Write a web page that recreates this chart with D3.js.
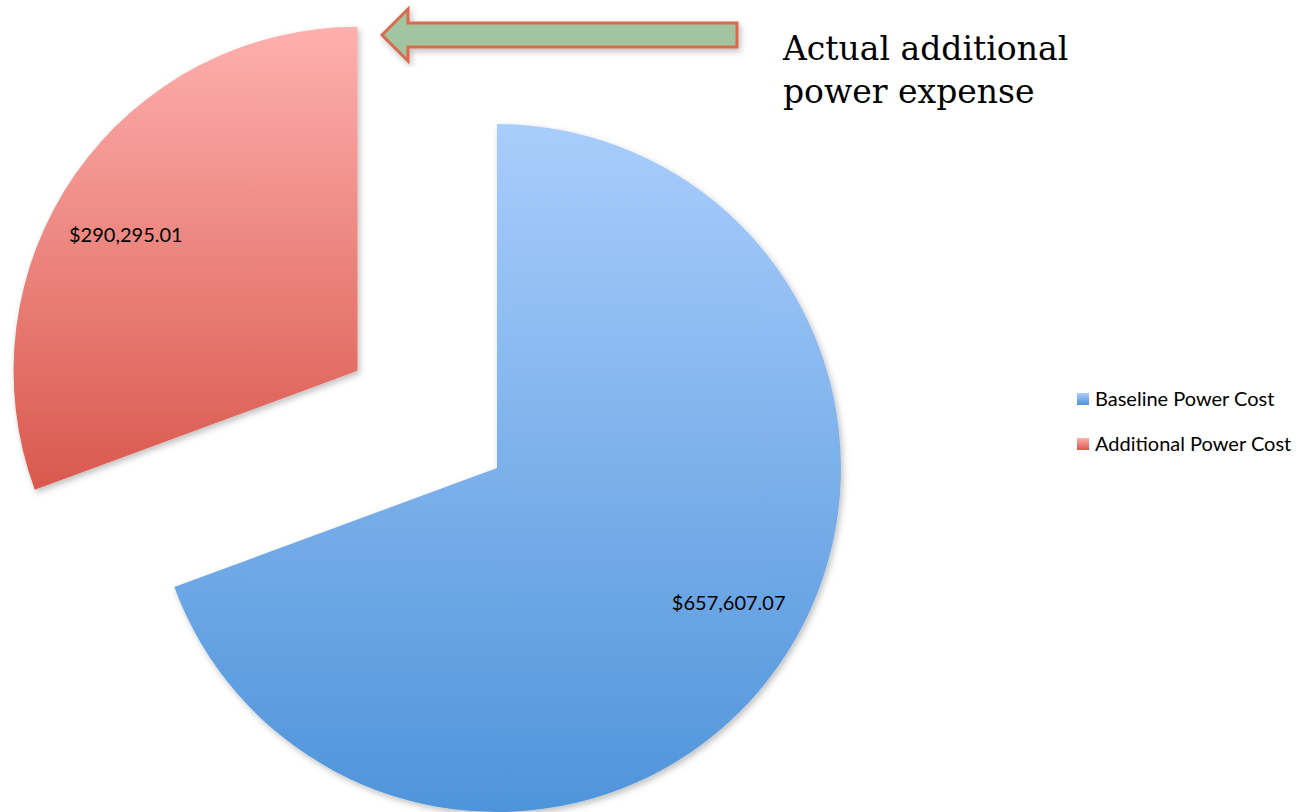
<!DOCTYPE html>
<html>
<head>
<meta charset="utf-8">
<script src="https://cdn.jsdelivr.net/npm/d3@7"></script>
<style>
  body { margin: 0; background: #fff; }
  svg { display: block; }
</style>
</head>
<body>
<div id="chart"></div>
<script>
// Power cost pie, with the additional slice pulled out
const categories = ['Baseline Power Cost', 'Additional Power Cost'];
const values = [657607.07, 290295.01];
const valueLabels = ['$657,607.07', '$290,295.01'];
const exploded = [false, true];
const gradTop = ['#a9cdfc', '#feb0ae'];
const gradBottom = ['#4f94da', '#d9584d'];
const callout = ['Actual additional', 'power expense'];

const width = 1316, height = 812;
const cx = 497, cy = 468;
const radius = 344;
const explodeDist = 170;

const svg = d3.select('#chart').append('svg')
    .attr('width', width)
    .attr('height', height);

const defs = svg.append('defs');

// gradients for slices
categories.forEach((c, i) => {
    const g = defs.append('linearGradient')
        .attr('id', 'grad' + i)
        .attr('x1', 0).attr('y1', 0).attr('x2', 0).attr('y2', 1);
    g.append('stop').attr('offset', '0%').attr('stop-color', gradTop[i]);
    g.append('stop').attr('offset', '100%').attr('stop-color', gradBottom[i]);
});

// soft shadow like the office chart
const shadow = defs.append('filter').attr('id', 'shadow')
    .attr('x', '-10%').attr('y', '-10%').attr('width', '120%').attr('height', '120%');
shadow.append('feDropShadow')
    .attr('dx', 2).attr('dy', 3).attr('stdDeviation', 3)
    .attr('flood-color', '#000').attr('flood-opacity', 0.25);

const pie = d3.pie().sort(null).value(d => d);
const arcs = pie(values);

const arc = d3.arc().innerRadius(0).outerRadius(radius);
const labelArc = d3.arc().innerRadius(radius * 0.78).outerRadius(radius * 0.78);

const slices = svg.append('g')
    .attr('transform', `translate(${cx},${cy})`);

arcs.forEach((a, i) => {
    const mid = (a.startAngle + a.endAngle) / 2;
    const off = exploded[i] ? explodeDist : 0;
    const dx = Math.sin(mid) * off;
    const dy = -Math.cos(mid) * off;
    const g = slices.append('g').attr('transform', `translate(${dx},${dy})`);
    g.append('path')
        .attr('d', arc(a))
        .attr('fill', `url(#grad${i})`)
        .attr('filter', 'url(#shadow)');
    // label a little behind the mid angle, as the original places it
    const la = { startAngle: a.startAngle - 0.08, endAngle: a.endAngle - 0.08 };
    const [lx, ly] = labelArc.centroid(la);
    g.append('text')
        .attr('x', lx)
        .attr('y', ly)
        .attr('text-anchor', 'middle')
        .attr('dy', '0.35em')
        .style('font-family', "Lato, 'Open Sans', sans-serif")
        .style('font-size', '20px')
        .style('fill', '#000')
        .text(valueLabels[i]);
});

// legend
const legend = svg.append('g').attr('transform', 'translate(1077,399)');
categories.forEach((c, i) => {
    const row = legend.append('g').attr('transform', `translate(0,${i * 45})`);
    row.append('rect')
        .attr('x', 0).attr('y', -6)
        .attr('width', 12).attr('height', 12)
        .attr('fill', `url(#grad${i})`);
    row.append('text')
        .attr('x', 18).attr('y', 0)
        .attr('dy', '0.35em')
        .style('font-family', "Lato, 'Open Sans', sans-serif")
        .style('font-size', '20px')
        .style('fill', '#000')
        .text(c);
});

// callout arrow pointing at the pulled-out slice
const arrowPts = [
    [382, 35], [408, 9], [408, 23], [737, 23],
    [737, 47], [408, 47], [408, 61]
];
svg.append('path')
    .attr('d', d3.line()(arrowPts) + 'Z')
    .attr('fill', '#a3c4a0')
    .attr('stroke', '#d96b4c')
    .attr('stroke-width', 3)
    .attr('stroke-linejoin', 'miter')
    .attr('filter', 'url(#shadow)');

const note = svg.append('text')
    .attr('x', 783).attr('y', 60)
    .style('font-family', "'DejaVu Serif', Georgia, serif")
    .style('font-size', '33px')
    .style('fill', '#000');
callout.forEach((t, i) => {
    note.append('tspan')
        .attr('x', 783)
        .attr('dy', i === 0 ? 0 : 43)
        .text(t);
});
</script>
</body>
</html>
